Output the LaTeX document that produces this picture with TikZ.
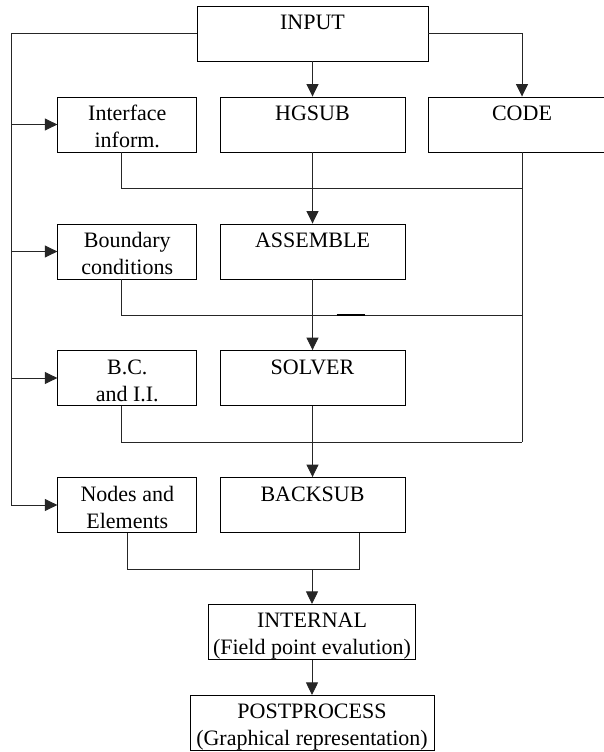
\documentclass[tikz,border=0pt]{standalone}
\usepackage{fontspec}
\setmainfont{Liberation Serif}
\usetikzlibrary{arrows.meta}

% struts that put the first baseline low in each box
\newcommand{\upstrut}{\rule{0pt}{23.5pt}}
\newcommand{\dnstrut}{\rule[-4.5pt]{0pt}{4.5pt}}

\begin{document}
\begin{tikzpicture}[x=1pt, y=-1pt,
    box/.style={draw, line width=0.9pt, inner xsep=2pt, inner ysep=0pt,
        minimum height=55pt, align=center, font=\fontsize{22}{27}\selectfont},
    line/.style={line width=0.9pt, draw=black!85},
    arrow/.style={line, -{Triangle[length=12.5pt, width=12pt]}}]

    \useasboundingbox (0,0) rectangle (604,752);
    \clip (0,0) rectangle (604,752);

    % Top box
    \node[box, minimum width=231pt] (input) at (312.5,33.5) {\upstrut INPUT\\\dnstrut};

    % First row
    \node[box, minimum width=139pt] (iface) at (127.3,124.5) {\upstrut Interface\\inform.\dnstrut};
    \node[box, minimum width=185pt] (hgsub) at (312.5,124.5) {\upstrut HGSUB\\\dnstrut};
    \node[box, minimum width=188pt] (code) at (522,124.5) {\upstrut CODE\\\dnstrut};

    % Second row
    \node[box, minimum width=139pt] (bound) at (127.3,251.5) {\upstrut Boundary\\conditions\dnstrut};
    \node[box, minimum width=185pt] (assemble) at (312.5,251.5) {\upstrut ASSEMBLE\\\dnstrut};

    % Third row
    \node[box, minimum width=139pt] (bcii) at (127.3,378) {\upstrut B.C.\\and I.I.\dnstrut};
    \node[box, minimum width=185pt] (solver) at (312.5,378) {\upstrut SOLVER\\\dnstrut};

    % Fourth row
    \node[box, minimum width=139pt] (nodes) at (127.3,505) {\upstrut Nodes and\\Elements\dnstrut};
    \node[box, minimum width=185pt] (backsub) at (312.5,505) {\upstrut BACKSUB\\\dnstrut};

    % Bottom boxes
    \node[box, minimum width=207pt, minimum height=54pt] (internal) at (312,632) {\upstrut INTERNAL\\(Field point evalution)\dnstrut};
    \node[box, minimum width=244pt, minimum height=54pt] (post) at (312,723) {\upstrut POSTPROCESS\\(Graphical representation)\dnstrut};

    % Points for the rail and the bus lines
    \coordinate (rail) at (11.5,33.5);
    \coordinate (busA) at (522,188);
    \coordinate (busB) at (522,315);
    \coordinate (busC) at (522,442);
    \coordinate (mergeR) at (359,569);

    % Left rail from INPUT
    \draw[arrow] (input.west) -- (rail) |- (nodes.west);
    \draw[arrow] (rail |- iface.west) -- (iface.west);
    \draw[arrow] (rail |- bound.west) -- (bound.west);
    \draw[arrow] (rail |- bcii.west) -- (bcii.west);

    % INPUT to HGSUB and CODE
    \draw[arrow] (input.south) -- (hgsub.north);
    \draw[arrow] (input.east) -| (code.north);

    % Main chain
    \draw[arrow] (hgsub.south) -- (assemble.north);
    \draw[arrow] (assemble.south) -- (solver.north);
    \draw[arrow] (solver.south) -- (backsub.north);

    % Bus lines on the right
    \draw[line] (code.south) -- (busC);
    \draw[line] ([xshift=-6pt]iface.south) |- (busA);
    \draw[line] ([xshift=-6pt]bound.south) |- (busB);
    \draw[line] ([xshift=-6pt]bcii.south) |- (busC);
    \draw[line width=1.6pt] (336.5,315) -- (364.5,315);

    % Merge below the fourth row
    \draw[line] (nodes.south) |- (mergeR) -- (mergeR |- backsub.south);
    \draw[arrow] (internal.north |- mergeR) -- (internal.north);
    \draw[arrow] (internal.south) -- (post.north);

\end{tikzpicture}
\end{document}
